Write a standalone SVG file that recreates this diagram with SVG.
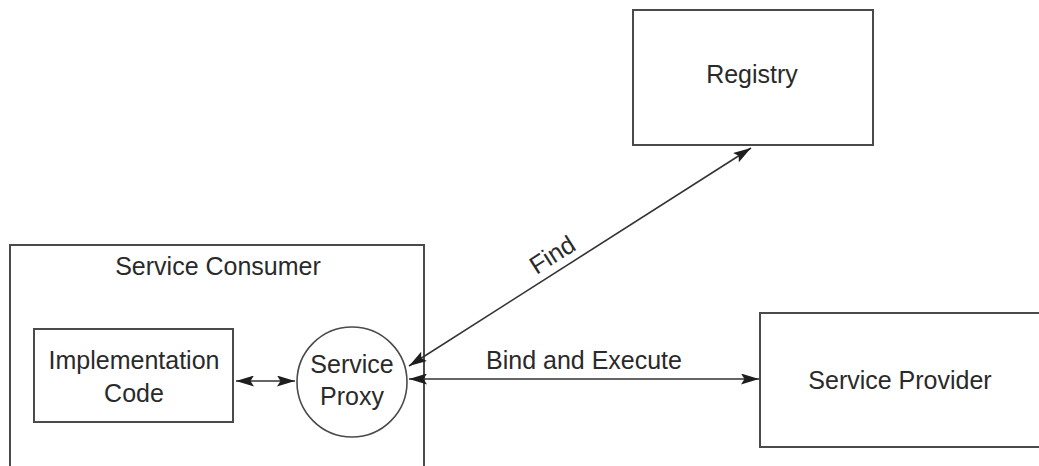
<svg xmlns="http://www.w3.org/2000/svg" width="1039" height="466" viewBox="0 0 1039 466">
  <style>
    .box { fill: #fff; stroke: #4a4a4a; stroke-width: 2; }
    .lbl { font-family: "Liberation Sans", Arial, sans-serif; font-size: 25px; fill: #2a2a2a; text-anchor: middle; }
    .conn { stroke: #333; stroke-width: 1.6; fill: none; marker-start: url(#head); marker-end: url(#head); }
  </style>
  <defs>
    <marker id="head" viewBox="0 0 18 11" refX="18" refY="5.5" markerWidth="18" markerHeight="11" markerUnits="userSpaceOnUse" orient="auto-start-reverse">
      <path d="M0,0 L18,5.5 L0,11 L3.5,5.5 Z" fill="#1e1e1e"/>
    </marker>
  </defs>
  <rect width="1039" height="466" fill="#fff"/>

  <g id="registry">
    <rect class="box" x="633" y="10" width="240" height="135"/>
    <text class="lbl" x="752" y="83">Registry</text>
  </g>

  <g id="service-consumer">
    <rect class="box" x="10" y="245" width="414" height="224"/>
    <text class="lbl" x="218" y="275">Service Consumer</text>
  </g>

  <g id="implementation-code">
    <rect class="box" x="34" y="329" width="199" height="93"/>
    <text class="lbl" x="134" y="369">Implementation</text>
    <text class="lbl" x="134" y="402">Code</text>
  </g>

  <g id="service-proxy">
    <circle cx="352" cy="382" r="55" fill="#fff" stroke="#4a4a4a" stroke-width="1.6"/>
    <text class="lbl" x="352" y="373">Service</text>
    <text class="lbl" x="352" y="405">Proxy</text>
  </g>

  <g id="service-provider">
    <rect class="box" x="760" y="313" width="300" height="134"/>
    <text class="lbl" x="900" y="389">Service Provider</text>
  </g>

  <g id="connectors">
    <line class="conn" x1="236" y1="381" x2="295" y2="381"/>
    <line class="conn" x1="409" y1="366" x2="751" y2="148"/>
    <text class="lbl" x="0" y="0" transform="translate(557,262) rotate(-32.5)">Find</text>
    <line class="conn" x1="409" y1="379" x2="759" y2="379"/>
    <text class="lbl" x="584" y="369">Bind and Execute</text>
  </g>
</svg>
